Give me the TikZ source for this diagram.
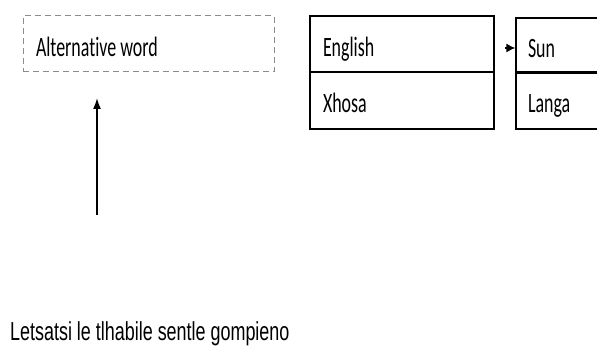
\documentclass[tikz,border=0pt]{standalone}
\usepackage{fontspec}
\usetikzlibrary{positioning, arrows.meta}
\newfontfamily\cellfont[FakeStretch=0.64, RawFeature=-liga]{Carlito}
\newfontfamily\notefont[FakeStretch=0.69]{Liberation Sans}

\begin{document}
\begin{tikzpicture}[
        x=1pt, y=-1pt,
        >={Latex[length=11pt, width=8pt]},
        cell/.style={rectangle, draw=black, line width=1.3pt, inner xsep=13pt, inner ysep=0pt,
            text width=#1, align=flush left, text height=25pt, text depth=0pt,
            font={\cellfont\fontsize{28}{32}\selectfont}},
        cell/.default=158pt,
        altcell/.style={cell=225pt, draw=black!45, line width=1pt, dash pattern=on 6pt off 4pt},
        note/.style={inner sep=0pt, anchor=base west, font={\notefont\fontsize{26}{30}\selectfont}},
    ]

        \useasboundingbox (0,0) rectangle (597,347);
        \clip (0,0) rectangle (597,347);

        % Draw the dashed box for the alternative word
        \node[altcell, minimum height=56pt] (alt) at (148.5,44) {Alternative word};

        % Draw the language table
        \node[cell, minimum height=56pt] (eng) at (402,44) {English};
        \node[cell, minimum height=57pt] (xho) at (402,100.5) {Xhosa};

        % Draw the translated word table
        \node[cell=64pt, minimum height=54pt, inner xsep=12pt] (sun) at (560,45) {Sun};
        \node[cell=64pt, minimum height=57pt, inner xsep=12pt] (lan) at (560,100.5) {Langa};
        \draw[line width=2.4pt] (sun.south west) -- (sun.south east);

        % Draw the sentence
        \node[note] (sent) at (10,340.7) {Letsatsi le tlhabile sentle gompieno};

        % Connect the arrows
        \coordinate (cue) at (97,215);
        \coordinate (cuetip) at (97,98);
        \draw[->, line width=1.6pt] (cue) -- (cuetip);
        \draw[-{Latex[length=9pt, width=9pt]}, line width=1.3pt]
            ([xshift=10pt, yshift=-4pt]eng.east) -- ([yshift=-4pt]eng.east -| sun.west);
    \end{tikzpicture}
\end{document}
